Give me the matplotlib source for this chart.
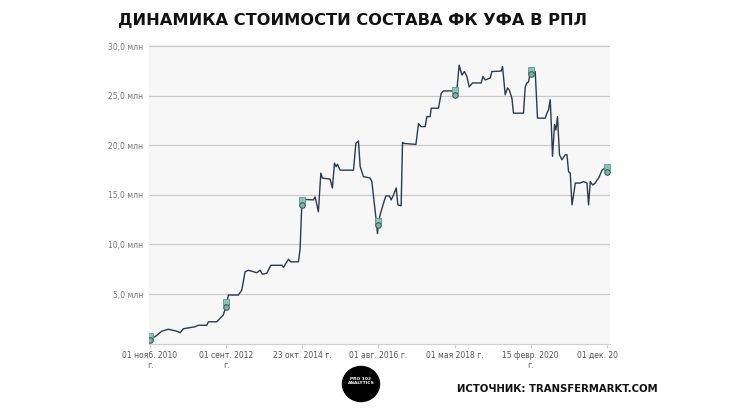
import matplotlib
matplotlib.use("Agg")
import matplotlib.pyplot as plt
from matplotlib.patches import Ellipse
from matplotlib.transforms import Bbox, TransformedBbox, ScaledTranslation
import numpy as np

# squad value, mln EUR; x is position along the axis in tick intervals
pos = [0.0, 0.066, 0.154, 0.240, 0.351, 0.394, 0.438, 0.591, 0.635, 0.745,
       0.766, 0.876, 0.920, 0.963, 1.0, 1.029, 1.160, 1.205, 1.248, 1.292,
       1.402, 1.445, 1.476, 1.533, 1.586, 1.731, 1.752, 1.817, 1.849, 1.949,
       1.971, 1.993, 2.006, 2.014, 2.146, 2.168, 2.211, 2.243, 2.264, 2.365,
       2.395, 2.422, 2.444, 2.461, 2.497, 2.672, 2.703, 2.737, 2.760, 2.803,
       2.891, 2.913, 2.970, 2.987, 3.0, 3.022, 3.066, 3.097, 3.144, 3.167,
       3.197, 3.233, 3.255, 3.298, 3.316, 3.329, 3.492, 3.526, 3.561, 3.614,
       3.636, 3.679, 3.693, 3.788, 3.824, 3.854, 3.965, 4.0, 4.030, 4.060,
       4.096, 4.130, 4.162, 4.192, 4.235, 4.349, 4.372, 4.402, 4.468, 4.490,
       4.612, 4.630, 4.665, 4.695, 4.718, 4.753, 4.774, 4.905, 4.928, 4.950,
       4.971, 4.993, 5.007, 5.059, 5.089, 5.191, 5.213, 5.234, 5.256, 5.269,
       5.286, 5.313, 5.331, 5.352, 5.378, 5.410, 5.453, 5.476, 5.497, 5.519,
       5.542, 5.563, 5.585, 5.651, 5.694, 5.739, 5.760, 5.782, 5.813, 5.848,
       5.871, 5.892, 5.937, 5.971, 6.002, 6.032]
value = [0.5, 0.7, 1.25, 1.45, 1.25, 1.1, 1.5, 1.7, 1.85, 1.85,
         2.2, 2.2, 2.55, 2.9, 3.9, 4.9, 4.9, 5.4, 7.25, 7.4,
         7.15, 7.4, 7.0, 7.1, 7.9, 7.9, 7.7, 8.5, 8.25, 8.25,
         9.6, 14.0, 14.3, 14.55, 14.5, 14.8, 13.3, 17.2, 16.7, 16.6,
         15.7, 18.2, 17.85, 18.1, 17.5, 17.5, 20.2, 20.45, 17.85, 16.85,
         16.7, 16.35, 12.5, 11.1, 12.1, 13.0, 14.15, 14.9, 14.9, 14.5,
         15.0, 15.7, 14.0, 13.9, 20.3, 20.2, 20.1, 22.2, 21.9, 21.9,
         22.9, 22.9, 23.75, 23.75, 25.25, 25.5, 25.5, 25.3, 25.6, 28.1,
         27.1, 27.45, 26.95, 25.9, 26.3, 26.3, 26.95, 26.6, 26.8, 27.45,
         27.5, 27.95, 25.1, 25.8, 25.6, 24.75, 23.25, 23.25, 25.9, 26.3,
         26.4, 27.3, 27.45, 27.45, 22.75, 22.75, 23.25, 23.6, 24.6, 22.4,
         18.9, 22.1, 21.55, 22.9, 19.05, 18.55, 19.05, 19.05, 17.35, 17.2,
         14.0, 15.0, 16.2, 16.2, 16.35, 16.2, 14.0, 16.35, 16.0, 16.2,
         16.5, 16.7, 17.5, 17.7, 17.5, 17.6]

tick_pos = [0, 1, 2, 3, 4, 5, 6]
tick_labels = ["01 нояб. 2010\nг.", "01 сент. 2012\nг.", "23 окт. 2014 г.",
               "01 авг. 2016 г.", "01 мая 2018 г.", "15 февр. 2020\nг.",
               "01 дек. 2021 г."]
y_ticks = [5, 10, 15, 20, 25, 30]
y_labels = ["5,0 млн", "10,0 млн", "15,0 млн", "20,0 млн", "25,0 млн", "30,0 млн"]

fig = plt.figure(figsize=(7.3, 4.11), dpi=100)
ax = fig.add_axes([0.204, 0.164, 0.632, 0.727])
ax.set_facecolor("#f7f7f7")

ax.plot(pos, value, color="#2b3a4c", lw=1.0, zorder=3)

# club badges at each tick date
badge_y = np.interp(tick_pos, pos, value)
up = ax.transData + ScaledTranslation(0, 2.0 / 72, fig.dpi_scale_trans)
down = ax.transData + ScaledTranslation(0, -1.2 / 72, fig.dpi_scale_trans)
ax.plot(tick_pos, badge_y, "s", ms=5, mfc="#8cc3b6", mec="#5f968b", mew=0.6,
        transform=up, zorder=4)
ax.plot(tick_pos, badge_y, "o", ms=4, mfc="#7fb4a8", mec="#355f5a", mew=0.8,
        transform=down, zorder=5)

ax.set_xlim(-0.015, 6.045)
ax.set_ylim(0, 30.15)
ax.set_yticks(y_ticks)
ax.set_yticklabels(y_labels)
ax.set_xticks(tick_pos)
ax.set_xticklabels(tick_labels)
ax.grid(axis="y", color="#c9c9c9", lw=0.9)
ax.set_axisbelow(True)
for s in ["left", "right", "top"]:
    ax.spines[s].set_visible(False)
ax.spines["bottom"].set_color("#d0d0d0")
ax.tick_params(axis="y", length=0, labelsize=5.5, labelcolor="#777777", pad=4)
ax.tick_params(axis="x", length=3, color="#d0d0d0", labelsize=5.5,
               labelcolor="#555555", pad=2)
for lbl in ax.get_xticklabels():
    lbl.set_linespacing(1.25)
# the last label runs off the screenshot
clip = TransformedBbox(Bbox([[0, 0], [618 / 730, 1]]), fig.transFigure)
last = ax.get_xticklabels()[-1]
last.set_clip_box(clip)
last.set_clip_on(True)

fig.text(0.483, 0.951, "ДИНАМИКА СТОИМОСТИ СОСТАВА ФК УФА В РПЛ", ha="center",
         va="center", fontsize=11.7, fontweight="heavy", color="#111111")
fig.text(0.626, 0.053, "ИСТОЧНИК: TRANSFERMARKT.COM", ha="left", va="center",
         fontsize=7.3, fontweight="bold", color="#111111")

# logo
logo = Ellipse((361 / 730, 1 - 384 / 411), 37 / 730, 35 / 411,
               transform=fig.transFigure, color="black")
fig.patches.append(logo)
fig.text(361 / 730, 1 - 381 / 411, "PRO 102\nANALYTICS", ha="center",
         va="center", fontsize=3.2, fontweight="bold", color="white",
         linespacing=1.0)

fig.savefig("out.png", dpi=100)
